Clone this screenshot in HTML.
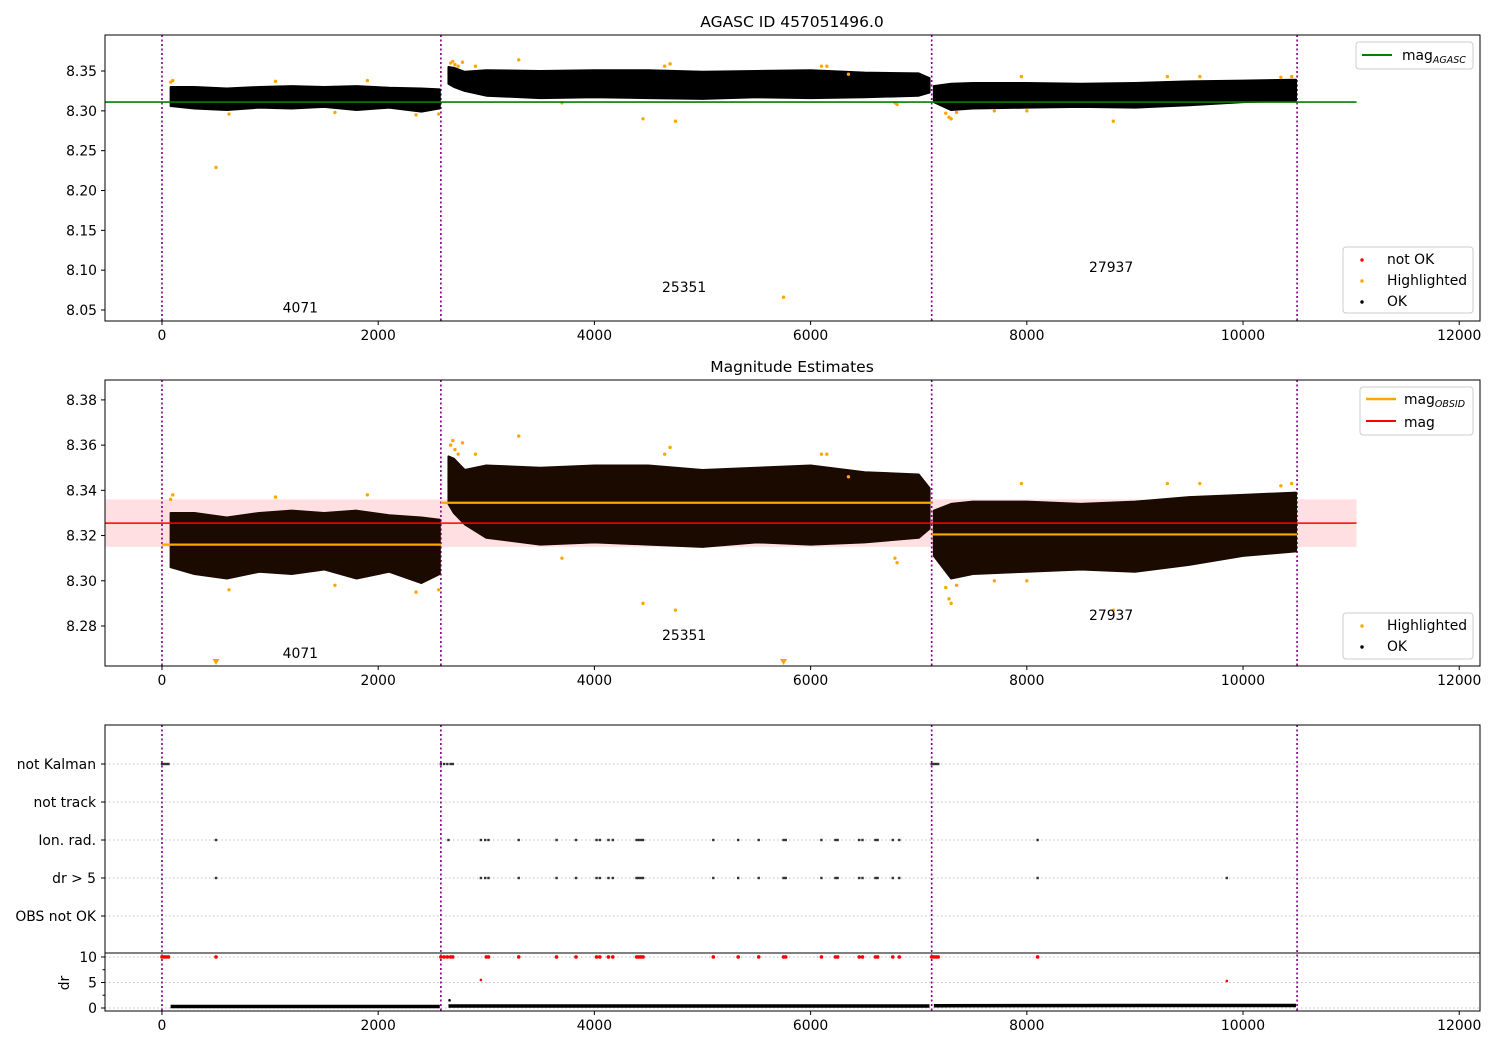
<!DOCTYPE html>
<html><head><meta charset="utf-8"><style>
body{margin:0;background:#fff}
svg{font-family:"DejaVu Sans","Liberation Sans",sans-serif}
</style></head><body>
<svg id="chart" width="1500" height="1050" xmlns="http://www.w3.org/2000/svg"></svg>
<script>
// ---- data ----
const xTicks=[0,2000,4000,6000,8000,10000,12000];
const obsStarts=[0,2580,7120,10500];
const obsIds=["4071","25351","27937"];
const obsLabelX=[1280,4830,8780];
const obsLabelY1=[8.053,8.079,8.104];
const obsLabelY2=[8.2675,8.2755,8.2845];
const magAgasc=8.311;
const magMean=8.3255, magLo=8.315, magHi=8.336;
const magObsid=[8.316,8.3345,8.3205];
// black OK scatter summarized as bands (x, low, high)
const bandX=[80,300,600,900,1200,1500,1800,2100,2400,2570, 2650,2700,2800,3000,3500,4000,4500,5000,5500,6000,6500,7000,7100, 7140,7300,7500,8000,8500,9000,9500,10000,10490];
const bandLo=[8.306,8.303,8.301,8.304,8.303,8.305,8.301,8.304,8.299,8.303, 8.334,8.330,8.325,8.319,8.316,8.317,8.316,8.315,8.317,8.316,8.317,8.319,8.323, 8.311,8.301,8.303,8.304,8.305,8.304,8.307,8.311,8.313];
const bandHi=[8.330,8.330,8.328,8.330,8.331,8.330,8.331,8.329,8.328,8.327, 8.355,8.354,8.349,8.351,8.350,8.351,8.351,8.349,8.350,8.351,8.348,8.347,8.341, 8.331,8.334,8.335,8.335,8.334,8.335,8.337,8.338,8.339];
const segBreak=[10,23];
const hlX=[80,100,500,620,1050,1600,1900,2350,2560,2670,2690,2710,2740,2780,3300,3700,4450,4750,4650,4700,5750,6100,6150,6350,6780,6800,7250,7280,7300,7350,7700,7950,8800,9300,9600,10350,10450,8000,2900];
const hlY=[8.336,8.338,8.229,8.296,8.337,8.298,8.338,8.295,8.296,8.360,8.362,8.358,8.356,8.361,8.364,8.310,8.290,8.287,8.356,8.359,8.066,8.356,8.356,8.346,8.310,8.308,8.297,8.292,8.290,8.298,8.300,8.343,8.287,8.343,8.343,8.342,8.343,8.300,8.356];
const ionX=[500,2650,2950,2990,3020,3300,3650,3830,4020,4050,4130,4170,4390,4410,4430,4450,5100,5330,5520,5750,5770,6100,6230,6250,6450,6480,6600,6620,6760,6820,8100];
const drX=[500,2950,2990,3020,3300,3650,3830,4020,4050,4130,4170,4390,4410,4430,4450,5100,5330,5520,5750,5770,6100,6230,6250,6450,6480,6600,6620,6760,6820,8100,9850];
const kalmanX=[0,20,40,60,2580,2610,2640,2670,2690,7120,7140,7160,7180];
const drRedX=[0,20,40,60,500,2580,2610,2640,2670,2690,3000,3020,3300,3650,3830,4020,4050,4130,4170,4390,4410,4430,4450,5100,5330,5520,5750,5770,6100,6230,6250,6450,6480,6600,6620,6760,6820,7120,7140,7160,7180,8100];
const drMidX=[2950,9850], drMidY=[5.5,5.3];
const drBandX=[80,2570,2650,7100,7140,10490];
const drBandY=[0.3,0.3,0.4,0.4,0.45,0.5];
const categories=["not Kalman","not track","Ion. rad.","dr > 5","OBS not OK"];

// ---- helpers ----
const svg=document.getElementById('chart');
const NS="http://www.w3.org/2000/svg";
function el(tag,attrs,parent){const e=document.createElementNS(NS,tag);for(const k in attrs)e.setAttribute(k,attrs[k]);(parent||svg).appendChild(e);return e;}
function txt(s,attrs){const e=el('text',attrs);e.textContent=s;return e;}
const FS=13.9;
const L=105,R=1480;
const xlo=-527,xhi=12192;
const X=v=>L+(v-xlo)/(xhi-xlo)*(R-L);
function yScale(top,bot,vhi,vlo){return v=>top+(vhi-v)/(vhi-vlo)*(bot-top);}
const Y1=yScale(35,321,8.3952,8.0362);
const Y2=yScale(380,666,8.3888,8.2623);
const YD=yScale(953,1011,10.78,-0.59);

function xAxis(bot,g){
  xTicks.forEach(t=>{el('line',{x1:X(t),x2:X(t),y1:bot,y2:bot+4,stroke:'#000'},g);
    const e=txt(t,{x:X(t),y:bot+19,'font-size':FS,'text-anchor':'middle'});
    
    });
}
function vlines(top,bot,g){
  obsStarts.forEach(s=>{const l=el('line',{x1:X(s),x2:X(s),y1:top,y2:bot,stroke:'purple','stroke-width':1.6,'stroke-dasharray':'2,2.5'},g);
  
  });
}
function yTicks(Y,vals,fmt,g){
  vals.forEach(v=>{el('line',{x1:L-4,x2:L,y1:Y(v),y2:Y(v),stroke:'#000'},g);
    const e=txt(fmt(v),{x:L-8,y:Y(v)+5,'font-size':FS,'text-anchor':'end'});
    
    });
}
function bands(Y,g,fill){
  const starts=[0,segBreak[0],segBreak[1]],ends=[segBreak[0],segBreak[1],bandX.length];
  for(let s=0;s<3;s++){
    let pts=[];
    for(let i=starts[s];i<ends[s];i++)pts.push(X(bandX[i])+','+Y(bandHi[i]));
    for(let i=ends[s]-1;i>=starts[s];i--)pts.push(X(bandX[i])+','+Y(bandLo[i]));
    const p=el('polygon',{points:pts.join(' '),fill:fill,stroke:fill,'stroke-width':2,'stroke-linejoin':'round'},g);
    
    
  }
}
function legendBox(x,y,w,h,g){el('rect',{x:x,y:y,width:w,height:h,rx:3,fill:'#fff','fill-opacity':0.85,stroke:'#ccc'},g);}

// ---- panel 1 ----
const g1=el('g',{});
vlines(35,321,g1);
bands(Y1,g1,'#000');
hlX.forEach((x,i)=>{const y=Y1(hlY[i]);if(y>35&&y<321){const c=el('circle',{cx:X(x),cy:y,r:1.7,fill:'orange'},g1);}});
{const l=el('line',{x1:L,x2:X(11050),y1:Y1(magAgasc),y2:Y1(magAgasc),stroke:'green','stroke-width':1.6},g1);}
obsIds.forEach((s,i)=>{const e=txt(s,{x:X(obsLabelX[i]),y:Y1(obsLabelY1[i])+5,'font-size':FS,'text-anchor':'middle'});});
el('rect',{x:L,y:35,width:R-L,height:286,fill:'none',stroke:'#000'},g1);
yTicks(Y1,[8.05,8.10,8.15,8.20,8.25,8.30,8.35],v=>v.toFixed(2),g1);
xAxis(321,g1);
{const t=txt('AGASC ID 457051496.0',{x:792,y:27,'font-size':15.5,'text-anchor':'middle'});}
legendBox(1356,42,117,27,g1);
el('line',{x1:1362,x2:1392,y1:55,y2:55,stroke:'green','stroke-width':2},g1);
{const t=txt('',{x:1402,y:60,'font-size':FS});t.innerHTML='mag<tspan font-size="9.5" font-style="italic" dy="3">AGASC</tspan>';}
legendBox(1343,247,130,66,g1);
el('circle',{cx:1362,cy:260,r:1.7,fill:'red'},g1);
el('circle',{cx:1362,cy:281,r:1.7,fill:'orange'},g1);
el('circle',{cx:1362,cy:302,r:1.7,fill:'#000'},g1);
[['not OK',264],['Highlighted',285],['OK',306]].forEach(a=>{const t=txt(a[0],{x:1387,y:a[1],'font-size':FS});});

// ---- panel 2 ----
const g2=el('g',{});
{const r=el('rect',{x:L,y:Y2(magHi),width:X(11050)-L,height:Y2(magLo)-Y2(magHi),fill:'#ffdfe2'},g2);}
vlines(380,666,g2);
bands(Y2,g2,'#1a0a00');
hlX.forEach((x,i)=>{const y=Y2(hlY[i]);if(y>380&&y<666){const c=el('circle',{cx:X(x),cy:y,r:1.7,fill:'orange'},g2);}
 else if(y>=666){const p=el('polygon',{points:`${X(x)-3.5},659 ${X(x)+3.5},659 ${X(x)},665`,fill:'orange'},g2);}});
for(let s=0;s<3;s++){const l=el('line',{x1:X(obsStarts[s]),x2:X(obsStarts[s+1]),y1:Y2(magObsid[s]),y2:Y2(magObsid[s]),stroke:'orange','stroke-width':2.2},g2);}
{const l=el('line',{x1:L,x2:X(11050),y1:Y2(magMean),y2:Y2(magMean),stroke:'red','stroke-width':1.6},g2);}
obsIds.forEach((s,i)=>{const e=txt(s,{x:X(obsLabelX[i]),y:Y2(obsLabelY2[i])+4,'font-size':FS,'text-anchor':'middle'});});
el('rect',{x:L,y:380,width:R-L,height:286,fill:'none',stroke:'#000'},g2);
yTicks(Y2,[8.28,8.30,8.32,8.34,8.36,8.38],v=>v.toFixed(2),g2);
xAxis(666,g2);
{const t=txt('Magnitude Estimates',{x:792,y:372,'font-size':15.5,'text-anchor':'middle'});}
legendBox(1360,387,113,48,g2);
el('line',{x1:1366,x2:1396,y1:399,y2:399,stroke:'orange','stroke-width':2.5},g2);
el('line',{x1:1366,x2:1396,y1:421,y2:421,stroke:'red','stroke-width':2},g2);
{const t=txt('',{x:1404,y:404,'font-size':FS});t.innerHTML='mag<tspan font-size="9.5" font-style="italic" dy="3">OBSID</tspan>';}
{const t=txt('mag',{x:1404,y:427,'font-size':FS});}
legendBox(1343,613,130,46,g2);
el('circle',{cx:1362,cy:626,r:1.7,fill:'orange'},g2);
el('circle',{cx:1362,cy:647,r:1.7,fill:'#000'},g2);
[['Highlighted',630],['OK',651]].forEach(a=>{const t=txt(a[0],{x:1387,y:a[1],'font-size':FS});});

// ---- panel 3: flags ----
const g3=el('g',{});
const catY=i=>764+i*38;
categories.forEach((c,i)=>{el('line',{x1:L,x2:R,y1:catY(i),y2:catY(i),stroke:'#aaa','stroke-width':0.8,'stroke-dasharray':'1.5,2.5'},g3);
 el('line',{x1:L-4,x2:L,y1:catY(i),y2:catY(i),stroke:'#000'},g3);
 const t=txt(c,{x:L-9,y:catY(i)+5,'font-size':FS,'text-anchor':'end'});});
[10,5,0].forEach(v=>el('line',{x1:L,x2:R,y1:YD(v),y2:YD(v),stroke:'#aaa','stroke-width':0.8,'stroke-dasharray':'1.5,2.5'},g3));
vlines(725,1011,g3);
function flagDots(xs,row){xs.forEach(x=>{const c=el('rect',{x:X(x)-1.2,y:catY(row)-1.2,width:2.4,height:2.4,fill:'#333'},g3);});}
flagDots(kalmanX,0);flagDots(ionX,2);flagDots(drX,3);
drRedX.forEach(x=>{const c=el('circle',{cx:X(x),cy:YD(10),r:1.8,fill:'red'},g3);});
drMidX.forEach((x,i)=>{const c=el('circle',{cx:X(x),cy:YD(drMidY[i]),r:1.3,fill:'red'},g3);});
for(let s=0;s<3;s++){const a=s*2,b=s*2+1;const l=el('line',{x1:X(drBandX[a]),x2:X(drBandX[b]),y1:YD(drBandY[a]),y2:YD(drBandY[b]),stroke:'#000','stroke-width':3.5},g3);}
el('circle',{cx:X(2660),cy:YD(1.5),r:1.3,fill:'#000'},g3);
el('rect',{x:L,y:725,width:R-L,height:286,fill:'none',stroke:'#000'},g3);
el('line',{x1:L,x2:R,y1:953,y2:953,stroke:'#000'},g3);
yTicks(YD,[0,5,10],v=>String(v),g3);
[2.5,7.5].forEach(v=>el('line',{x1:L-2.5,x2:L,y1:YD(v),y2:YD(v),stroke:'#000'},g3));
{const t=txt('dr',{x:69,y:983,'font-size':FS,'text-anchor':'middle',transform:'rotate(-90 69 983)'});}
xAxis(1011,g3);
</script>
</body></html>
